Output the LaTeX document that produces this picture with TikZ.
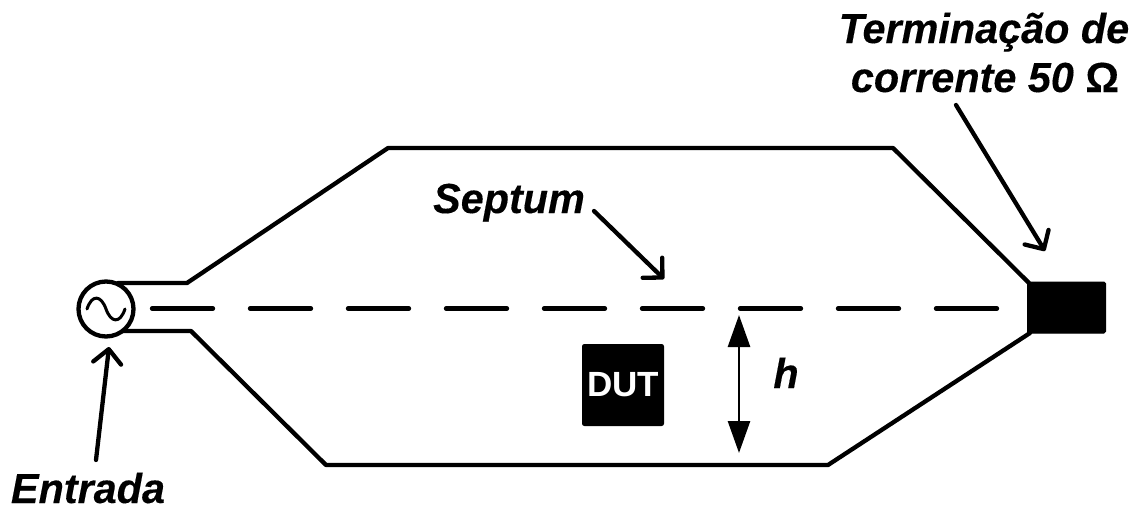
\documentclass[tikz,border=0pt]{standalone}
\usepackage{fontspec}
\setmainfont{Liberation Sans}
\newfontface\labelface{Liberation Sans Bold Italic}[FakeStretch=0.985,FakeBold=0.25]
\newfontface\omegaface{Liberation Sans Bold}[FakeBold=0.25]
\newfontface\dutface{Liberation Sans Bold}
\usetikzlibrary{arrows.meta}
\tikzset{
  wall/.style={line width=4.3pt,line join=round,line cap=round},
  septumline/.style={line width=4.3pt,line cap=round,dash pattern=on 61pt off 37pt},
  label/.style={font=\fontsize{42}{50}\selectfont\labelface,inner sep=0pt,text=black},
  pointer/.style={line width=4.3pt,line cap=round,-{Straight Barb[length=14pt,width=28pt,line width=4.3pt,round]}},
  height/.style={line width=2.7pt,{Triangle[length=32pt,width=22pt]}-{Triangle[length=32pt,width=22pt]}},
  blackbox/.style={fill=black,draw=black,line width=1pt,rounded corners=1.5pt,inner sep=0pt},
}
\begin{document}
\begin{tikzpicture}[x=1pt,y=-1pt]
\useasboundingbox (0,0) rectangle (1136,506);
% outline
\draw[wall] (118,283) -- (187,283) -- (388,148) -- (893,148) -- (1029,283);
\draw[wall] (120,331) -- (191,331) -- (326,465) -- (828,465) -- (1030,333);
% septum
\coordinate (septL) at (152,308.5);
\coordinate (septR) at (1000,308.5);
\draw[septumline] (septL) -- (septR);
% source
\node[circle,draw,line width=4.3pt,minimum size=55pt,inner sep=0pt,fill=white] (src) at (106,309) {};
\draw[line width=3pt,line cap=round] (87,309) .. controls (92,294) and (101,295) .. (106,309) .. controls (111,323) and (120,324) .. (125,309);
% termination
\node[blackbox,minimum width=78pt,minimum height=51pt] (term) at (1066.5,307.5) {};
% DUT
\node[blackbox,minimum width=81pt,minimum height=81pt,text=white,font=\fontsize{35}{40}\selectfont\dutface,rounded corners=2pt] (dut) at (623,385) {DUT};
% h
\coordinate (hT) at (739,315);
\coordinate (hB) at (739,453);
\draw[height] (hT) -- (hB);
\node[label,anchor=base] (hlabel) at (786,388) {h};
% labels
\node[label,anchor=base] (septum) at (509,213) {Septum};
\coordinate (septS) at (594,211);
\coordinate (septE) at (664,279);
\draw[pointer] (septS) -- (septE);
\node[label,anchor=base] (entrada) at (88,503) {Entrada};
\coordinate (entS) at (96,460);
\coordinate (entE) at (109,347);
\draw[pointer] (entS) -- (entE);
\node[label,anchor=base] (termA) at (984,43) {Terminação de};
\node[label,anchor=base] (termB) at (985,92) {corrente 50 {\omegaface Ω}};
\coordinate (tS) at (956,105);
\coordinate (tE) at (1045,251);
\draw[pointer] (tS) -- (tE);
\end{tikzpicture}
\end{document}
